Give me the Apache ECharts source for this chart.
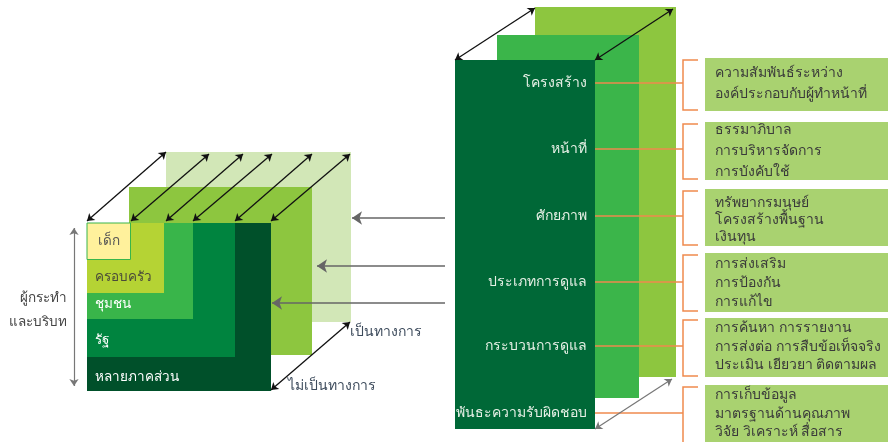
<!DOCTYPE html>
<html>
<head>
<meta charset="utf-8">
<script src="https://cdn.jsdelivr.net/npm/echarts@6/dist/echarts.min.js"></script>
<style>
  html, body { margin: 0; padding: 0; background: #fff; }
  #main { width: 890px; height: 442px; }
</style>
</head>
<body>
<div id="main"></div>
<script>
// ข้อมูลข้อความ
const layerNames = ['เด็ก', 'ครอบครัว', 'ชุมชน', 'รัฐ', 'หลายภาคส่วน'];
const actorLabel = ['ผู้กระทำ', 'และบริบท'];
const depthLabels = ['เป็นทางการ', 'ไม่เป็นทางการ'];
const dimensionNames = ['โครงสร้าง', 'หน้าที่', 'ศักยภาพ', 'ประเภทการดูแล', 'กระบวนการดูแล', 'พันธะความรับผิดชอบ'];
const dimensionDetails = [
  ['ความสัมพันธ์ระหว่าง', 'องค์ประกอบกับผู้ทำหน้าที่'],
  ['ธรรมาภิบาล', 'การบริหารจัดการ', 'การบังคับใช้'],
  ['ทรัพยากรมนุษย์', 'โครงสร้างพื้นฐาน', 'เงินทุน'],
  ['การส่งเสริม', 'การป้องกัน', 'การแก้ไข'],
  ['การค้นหา การรายงาน', 'การส่งต่อ การสืบข้อเท็จจริง', 'ประเมิน เยียวยา ติดตามผล'],
  ['การเก็บข้อมูล', 'มาตรฐานด้านคุณภาพ', 'วิจัย วิเคราะห์ สื่อสาร']
];

// layout (ระบบพิกัดของแกน x 0..890, y 0..442)
const FONT = 'Noto Sans, Tahoma, sans-serif';
const panelRects = [
  // [x0, y0, x1, y1, color]
  [166, 152, 351, 322, '#d2e7b7'],
  [129, 187, 312, 355, '#8dc63f'],
  [87, 223, 271, 391, '#00502a'],
  [87, 223, 235, 357, '#00843f'],
  [87, 223, 193, 319, '#39b54a'],
  [87, 223, 164, 293, '#b5d334'],
  [535, 7, 676, 377, '#8dc63f'],
  [497, 35, 639, 398, '#3bb54a'],
  [455, 60, 595, 429, '#006837']
];
const boxRects = [[58, 111], [122, 180], [189, 246], [253, 312], [318, 377], [385, 450]];
const layerPos = [[98, 241, '#555'], [95, 277, '#4a4a3a'], [95, 304, '#fff'], [95, 340, '#fff'], [95, 377, '#fff']];
const dimY = [83, 149, 216, 282, 346, 413];
const detailY = [[73, 94], [130, 151, 172], [203, 220, 237], [264, 283, 302], [328, 347, 365], [395, 414, 432]];

const rectData = panelRects.map(r => ({ value: r.slice(0, 4), itemStyle: { color: r[4] } }));
rectData.push({ value: [87, 223, 130.5, 259.5], itemStyle: { color: '#fff19c', borderColor: '#39b54a', borderWidth: 1 } });
boxRects.forEach(b => rectData.push({ value: [705, b[0], 888, b[1]], itemStyle: { color: '#a9d270' } }));

const texts = [];
layerNames.forEach((t, i) => texts.push({ x: layerPos[i][0], y: layerPos[i][1], text: t, align: 'left', color: layerPos[i][2], size: 13.5 }));
actorLabel.forEach((t, i) => texts.push({ x: 67, y: 298 + i * 24, text: t, align: 'right', color: '#444', size: 13.5 }));
texts.push({ x: 350, y: 332, text: depthLabels[0], align: 'left', color: '#3d4b5c', size: 14 });
texts.push({ x: 288, y: 386, text: depthLabels[1], align: 'left', color: '#3d4b5c', size: 14 });
dimensionNames.forEach((t, i) => texts.push({ x: 587, y: dimY[i], text: t, align: 'right', color: '#e6f0e6', size: 14 }));
dimensionDetails.forEach((lines, i) => lines.forEach((t, j) => texts.push({ x: 715, y: detailY[i][j], text: t, align: 'left', color: '#3a3a3a', size: 14 })));

const blackArrows = [
  [[87, 221], [166, 152]], [[131, 221], [209, 154]], [[166, 221], [243, 154]],
  [[193, 221], [272, 154]], [[235, 221], [312, 154]], [[271, 221], [350, 154]],
  [[271, 390], [350, 322]],
  [[455, 60], [535, 8]], [[595, 60], [673, 9]]
];
const greyArrows = [[[595, 429], [672, 379]], [[74, 228], [74, 386]]];
const pointers = [[[352, 218], [445, 218]], [[317, 266], [445, 266]], [[272, 303], [445, 303]]];

const bracketLines = [];
boxRects.forEach((b, i) => {
  const top = b[0] + 2, bot = Math.min(b[1] - 1, 445);
  bracketLines.push({ coords: [[698, top], [683, top], [683, bot], [698, bot]] });
  bracketLines.push({ coords: [[595, dimY[i]], [683, dimY[i]]] });
});

const chart = echarts.init(document.getElementById('main'));
chart.setOption({
  animation: false,
  grid: { left: 0, right: 0, top: 0, bottom: 0 },
  xAxis: { type: 'value', min: 0, max: 890, show: false },
  yAxis: { type: 'value', min: 0, max: 442, inverse: true, show: false },
  series: [
    {
      type: 'custom',
      z: 1,
      data: rectData,
      renderItem: function (params, api) {
        const p0 = api.coord([api.value(0), api.value(1)]);
        const p1 = api.coord([api.value(2), api.value(3)]);
        return {
          type: 'rect',
          shape: { x: p0[0], y: p0[1], width: p1[0] - p0[0], height: p1[1] - p0[1] },
          style: api.style()
        };
      }
    },
    {
      type: 'lines',
      coordinateSystem: 'cartesian2d',
      polyline: true,
      z: 3,
      lineStyle: { color: '#ef8a4e', width: 1.5, opacity: 1 },
      data: bracketLines
    },
    {
      type: 'lines',
      coordinateSystem: 'cartesian2d',
      z: 4,
      symbol: ['arrow', 'arrow'],
      symbolSize: 7,
      lineStyle: { color: '#111', width: 1.3, opacity: 1 },
      data: blackArrows.map(c => ({ coords: c }))
    },
    {
      type: 'lines',
      coordinateSystem: 'cartesian2d',
      z: 4,
      symbol: ['arrow', 'arrow'],
      symbolSize: 7,
      lineStyle: { color: '#777', width: 1.2, opacity: 1 },
      data: greyArrows.map(c => ({ coords: c }))
    },
    {
      type: 'lines',
      coordinateSystem: 'cartesian2d',
      z: 4,
      symbol: ['arrow', 'none'],
      symbolSize: [10, 13],
      lineStyle: { color: '#666', width: 1.6, opacity: 1 },
      data: pointers.map(c => ({ coords: c }))
    },
    {
      type: 'custom',
      z: 5,
      data: texts.map(t => [t.x, t.y]),
      renderItem: function (params, api) {
        const t = texts[params.dataIndex];
        const p = api.coord([t.x, t.y]);
        return {
          type: 'text',
          x: p[0], y: p[1],
          style: {
            text: t.text, fill: t.color, align: t.align, verticalAlign: 'middle',
            font: t.size + 'px ' + FONT
          }
        };
      }
    }
  ]
});
</script>
</body>
</html>
